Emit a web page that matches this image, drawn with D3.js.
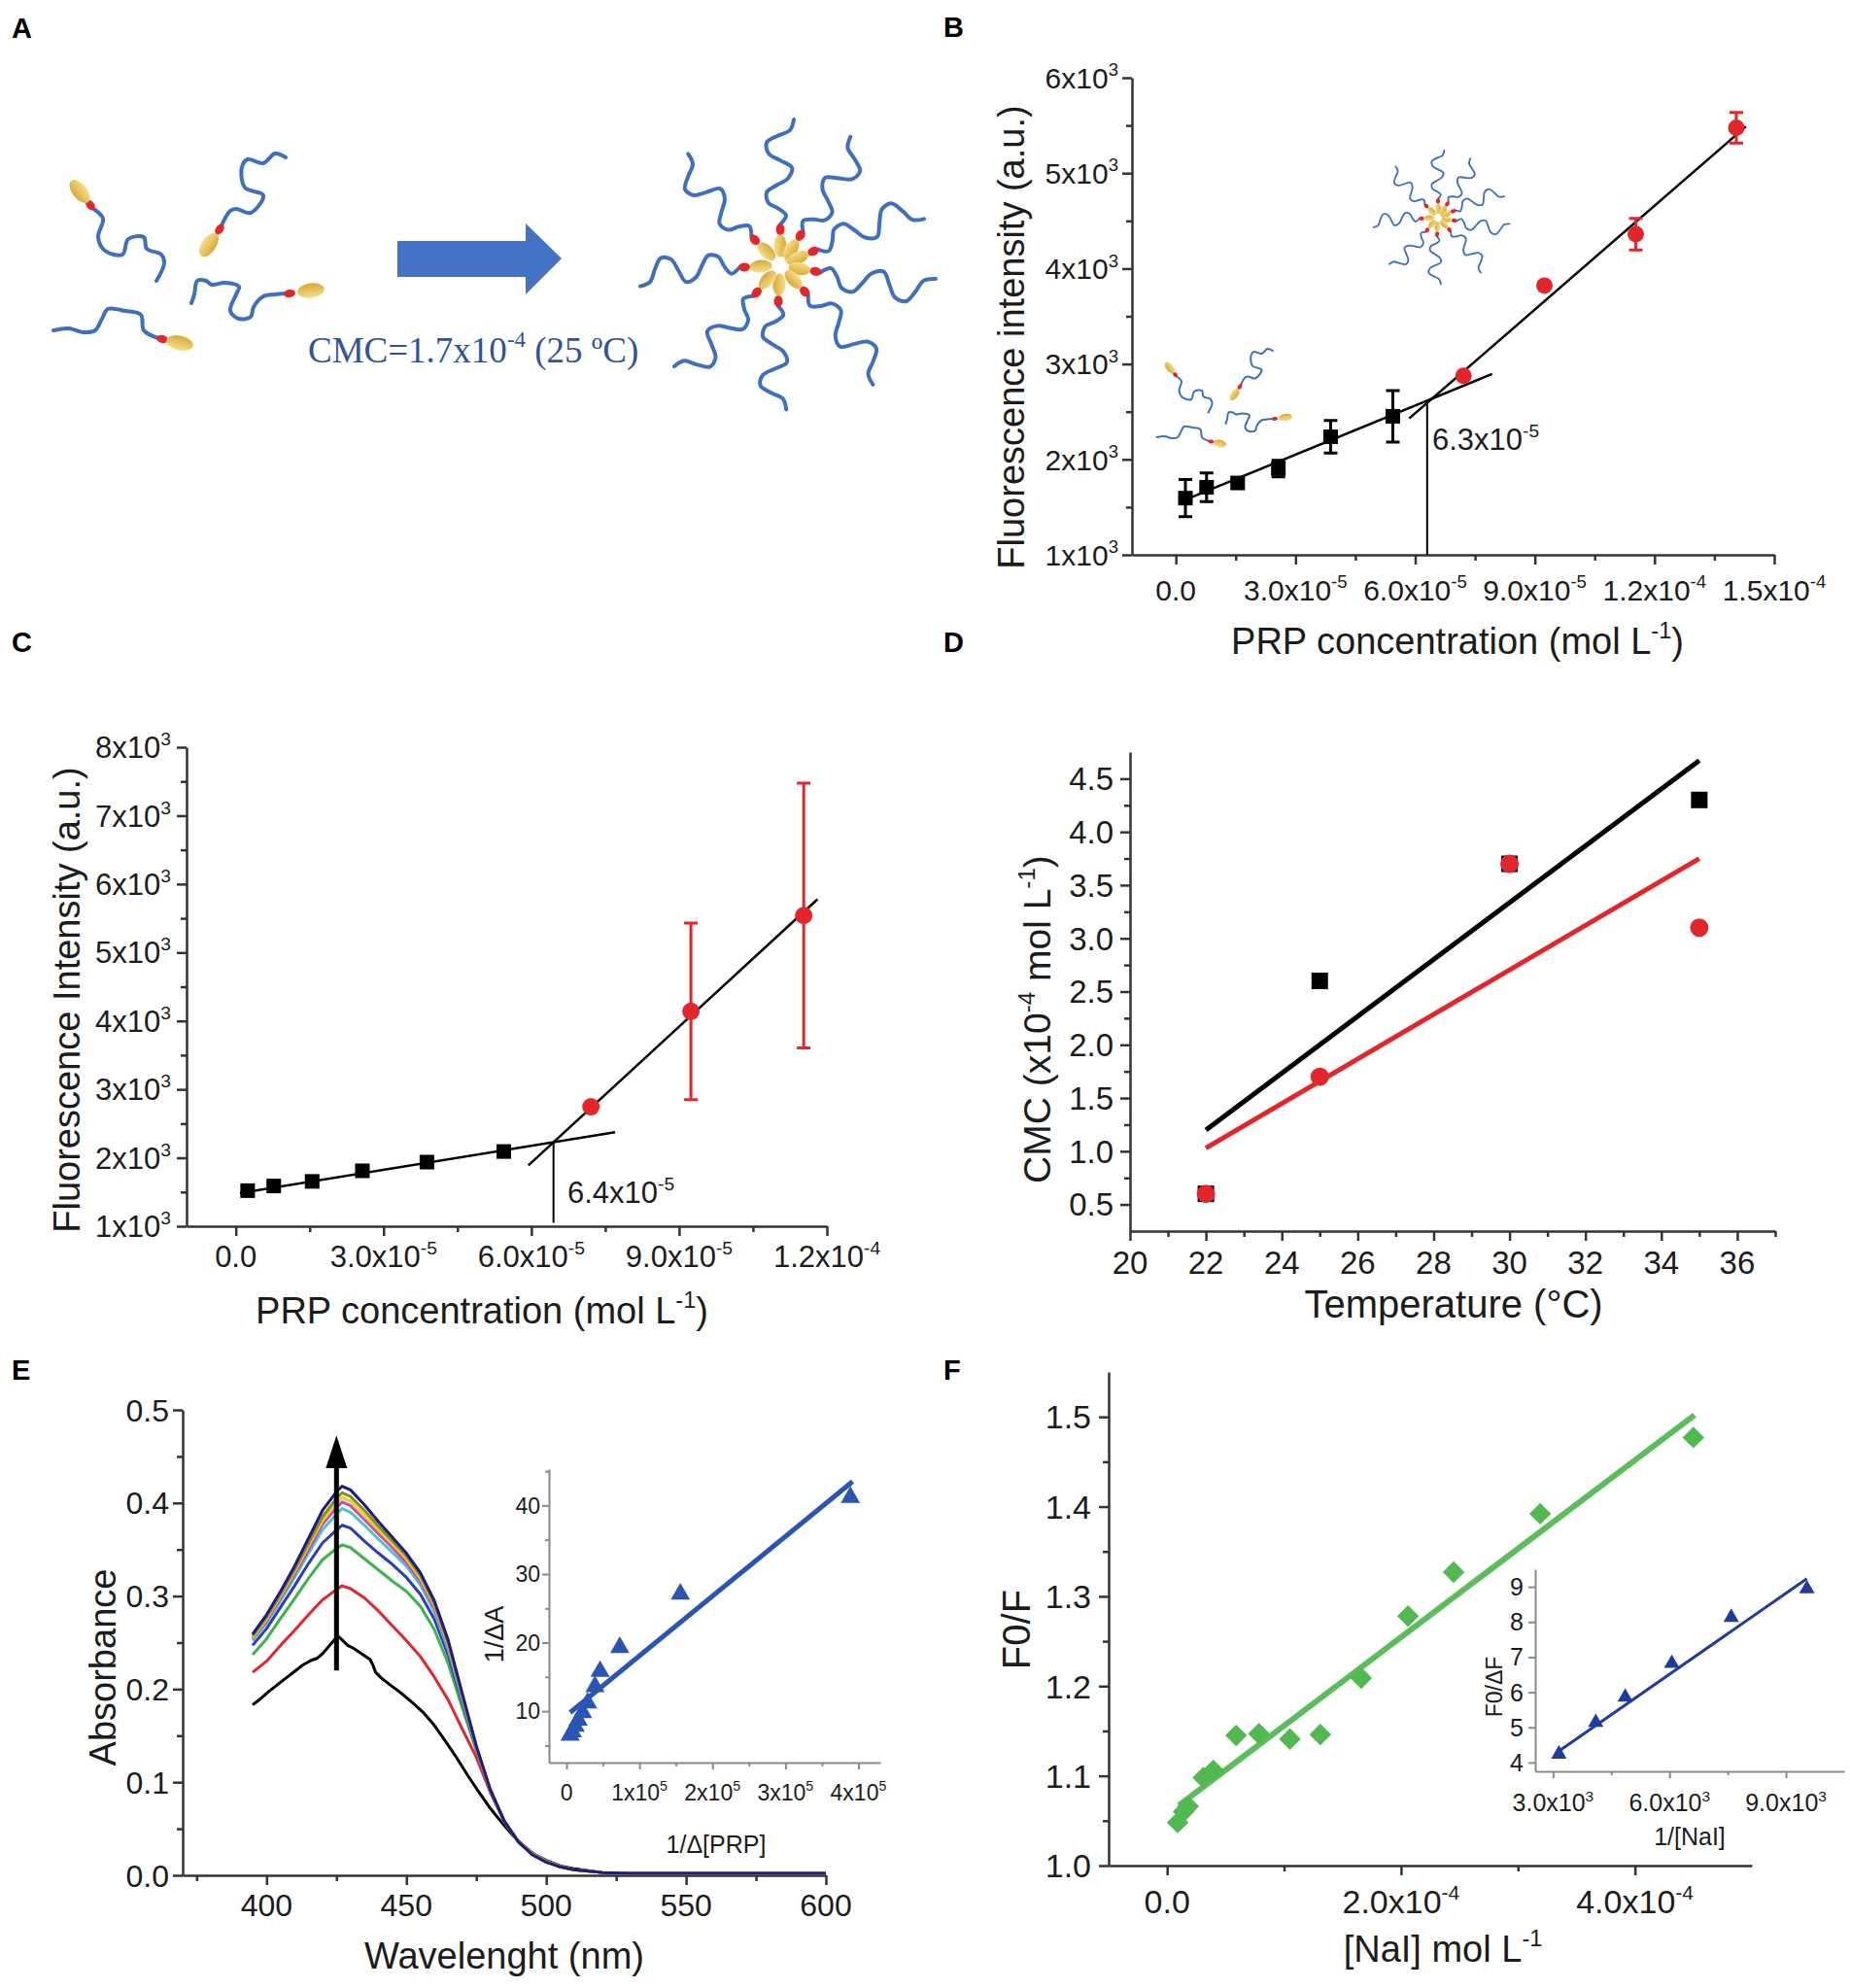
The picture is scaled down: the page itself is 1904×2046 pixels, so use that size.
<!DOCTYPE html>
<html>
<head>
<meta charset="utf-8">
<script src="https://d3js.org/d3.v7.min.js"></script>
<style>
  body { margin: 0; background: #fff; }
  text { font-family: "Liberation Sans", Arial, sans-serif; fill: #1c1c1c; }
  .axis path, .axis line { stroke: #333; stroke-width: 2.5px; fill: none; }
  .inset path, .inset line { stroke: #8a8a8a; stroke-width: 2px; fill: none; }
  .plabel { font-weight: bold; font-size: 29px; fill: #000; }
  .chain { fill: none; stroke: #3e6fc0; stroke-width: 4px; stroke-linecap: round; stroke-linejoin: round; }
  .fit { fill: none; stroke: #000; stroke-width: 2.5px; }
</style>
</head>
<body>
<script>
// ---------------- data ----------------
// panels B and C: PRP concentration (mol/L) and fluorescence intensity
var prpConc = [2.4e-6, 7.7e-6, 1.55e-5, 2.57e-5, 3.88e-5, 5.44e-5, 7.21e-5, 9.24e-5, 1.153e-4, 1.405e-4];
var fluoB = [1594, 1708, 1753, 1904, 2237, 2452, 2877, 3822, 4361, 5475];
var errB  = [195, 150, 55, 87, 170, 270, 0, 0, 165, 160];
var fitLowB  = [[1.5e-6, 1562], [7.93e-5, 2895]];
var fitHighB = [[5.85e-5, 2429], [1.429e-4, 5489]];
var cmcB = 6.3e-5, cmcTopB = 2600;

var fluoC = [1520, 1588, 1655, 1810, 1937, 2092, 2745, 4140, 5540];
var errC  = [0, 0, 0, 0, 0, 0, 0, 1290, 1935];
var fitLowC  = [[8.4e-7, 1485], [7.7e-5, 2373]];
var fitHighC = [[5.94e-5, 1890], [1.181e-4, 5778]];
var cmcC = 6.45e-5, cmcTopC = 2235;
var nBelow = 6; // first points are black squares, rest red circles

// panel D
var tempD = [22, 25, 30, 35];
var cmcBlack = [0.6, 2.6, 3.7, 4.3];
var cmcRed = [0.6, 1.7, 3.7, 3.1];
var fitBlackD = [[22, 1.2], [35, 4.67]];
var fitRedD = [[22, 1.03], [35, 3.75]];

// panel E: absorption spectra
var wlE = [395,400,405,410,415,420,425,427,430,435,440,445,450,455,460,465,470,475,480,485,490,495,500,505,510,520,530,550,600];
var absRed   = [.218,.230,.247,.263,.280,.296,.307,.311,.308,.298,.284,.268,.252,.235,.213,.188,.157,.127,.089,.058,.037,.024,.015,.010,.006,.003,.002,.002,.002];
var absGreen = [.237,.254,.276,.297,.319,.339,.351,.355,.352,.340,.328,.316,.305,.289,.264,.227,.180,.134,.091,.058,.036,.023,.015,.009,.006,.003,.002,.002,.002];
var absBlue  = [.247,.265,.288,.311,.335,.357,.371,.376,.373,.359,.346,.334,.320,.302,.275,.236,.186,.136,.091,.058,.036,.023,.015,.009,.006,.003,.002,.002,.002];
var absCyan  = [.252,.271,.295,.320,.346,.371,.388,.394,.390,.376,.361,.347,.332,.312,.283,.242,.189,.137,.091,.058,.036,.023,.015,.009,.006,.003,.002,.002,.002];
var absMag   = [.254,.273,.298,.323,.350,.377,.395,.401,.397,.382,.367,.352,.336,.316,.287,.245,.191,.137,.091,.058,.036,.023,.015,.009,.006,.003,.002,.002,.002];
var absYel   = [.255,.275,.300,.326,.354,.381,.400,.406,.402,.387,.371,.356,.340,.319,.290,.247,.192,.138,.092,.058,.036,.023,.015,.009,.006,.003,.002,.002,.002];
var absOlive = [.257,.277,.302,.328,.357,.385,.405,.411,.407,.392,.375,.359,.343,.322,.292,.249,.193,.138,.092,.058,.036,.023,.015,.009,.006,.003,.002,.002,.002];
var absNavy  = [.259,.280,.305,.332,.362,.392,.412,.418,.414,.398,.380,.363,.346,.325,.295,.252,.195,.139,.092,.058,.036,.022,.014,.009,.006,.003,.002,.002,.002];
var wlBlack  = [395,398,401,404,407,410,413,416,418,420,422,424,425.5,427,429,431,433,435,437,438,439,441,444,448,452,456,460,464,468,472,476,480,484,488,492,496,500,505,510,515,520,530,560,600];
var absBlack = [.183,.190,.198,.205,.212,.219,.226,.231,.233,.238,.245,.252,.257,.253,.247,.244,.240,.236,.232,.226,.218,.212,.205,.196,.186,.175,.161,.144,.126,.107,.089,.072,.057,.043,.031,.022,.016,.010,.007,.005,.003,.002,.002,.002];
var spectra = [
  {c: '#000000', v: null},
  {c: '#e3262b', v: absRed},
  {c: '#3cb44b', v: absGreen},
  {c: '#2b3cc0', v: absBlue},
  {c: '#45c6cf', v: absCyan},
  {c: '#d445b8', v: absMag},
  {c: '#e6d41e', v: absYel},
  {c: '#8c8a2a', v: absOlive},
  {c: '#1c1c84', v: absNavy}
];
var arrowE = {wl: 425, from: 0.22, to: 0.4725, head: 0.035};

// panel E inset
var invPRP = [3.89e5, 1.56e5, 7.3e4, 4.6e4, 3.9e4, 2.9e4, 2.2e4, 1.6e4, 1.2e4, 8e3, 5e3];
var invA   = [41.2, 27.1, 19.3, 15.8, 13.6, 11.2, 9.8, 8.7, 7.8, 7.0, 6.5];
var fitE   = [[5e3, 9.8], [3.92e5, 43.5]];

// panel F
var naiConc = [9e-6, 1.4e-5, 1.8e-5, 3.1e-5, 3.95e-5, 5.9e-5, 7.85e-5, 1.05e-4, 1.31e-4, 1.66e-4, 2.06e-4, 2.45e-4, 3.19e-4, 4.5e-4];
var f0f = [1.048, 1.060, 1.066, 1.098, 1.106, 1.145, 1.147, 1.141, 1.146, 1.209, 1.278, 1.327, 1.392, 1.477];
var fitF = [[1.0e-5, 1.067], [4.51e-4, 1.502]];
// panel F inset
var invNaI = [3.15e3, 4.1e3, 4.86e3, 6.06e3, 7.59e3, 9.54e3];
var f0dF = [4.24, 5.14, 5.86, 6.82, 8.13, 8.94];
var fitFi = [[3.12e3, 4.3], [9.54e3, 9.23]];

// tick values and labels
var bXt = [0, 3e-5, 6e-5, 9e-5, 1.2e-4, 1.5e-4];
var bXl = [['0.0'], ['3.0x10', ['-5']], ['6.0x10', ['-5']], ['9.0x10', ['-5']], ['1.2x10', ['-4']], ['1.5x10', ['-4']]];
var bXm = [1.5e-5, 4.5e-5, 7.5e-5, 1.05e-4, 1.35e-4];
var bYt = [1000, 2000, 3000, 4000, 5000, 6000];
var bYl = [['1x10', ['3']], ['2x10', ['3']], ['3x10', ['3']], ['4x10', ['3']], ['5x10', ['3']], ['6x10', ['3']]];
var bYm = [1500, 2500, 3500, 4500, 5500];

var cXt = [0, 3e-5, 6e-5, 9e-5, 1.2e-4];
var cXl = [['0.0'], ['3.0x10', ['-5']], ['6.0x10', ['-5']], ['9.0x10', ['-5']], ['1.2x10', ['-4']]];
var cXm = [1.5e-5, 4.5e-5, 7.5e-5, 1.05e-4];
var cYt = [1000, 2000, 3000, 4000, 5000, 6000, 7000, 8000];
var cYl = [['1x10', ['3']], ['2x10', ['3']], ['3x10', ['3']], ['4x10', ['3']], ['5x10', ['3']], ['6x10', ['3']], ['7x10', ['3']], ['8x10', ['3']]];
var cYm = [1500, 2500, 3500, 4500, 5500, 6500, 7500];

var dXt = [20, 22, 24, 26, 28, 30, 32, 34, 36];
var dXl = [['20'], ['22'], ['24'], ['26'], ['28'], ['30'], ['32'], ['34'], ['36']];
var dXm = [21, 23, 25, 27, 29, 31, 33, 35, 37];
var dYt = [0.5, 1.0, 1.5, 2.0, 2.5, 3.0, 3.5, 4.0, 4.5];
var dYl = [['0.5'], ['1.0'], ['1.5'], ['2.0'], ['2.5'], ['3.0'], ['3.5'], ['4.0'], ['4.5']];
var dYm = [0.75, 1.25, 1.75, 2.25, 2.75, 3.25, 3.75, 4.25];

var eXt = [400, 450, 500, 550, 600];
var eXl = [['400'], ['450'], ['500'], ['550'], ['600']];
var eXm = [375, 425, 475, 525, 575];
var eYt = [0, 0.1, 0.2, 0.3, 0.4, 0.5];
var eYl = [['0.0'], ['0.1'], ['0.2'], ['0.3'], ['0.4'], ['0.5']];
var eYm = [0.05, 0.15, 0.25, 0.35, 0.45];

var eiXt = [0, 1e5, 2e5, 3e5, 4e5];
var eiXl = [['0'], ['1x10', ['5']], ['2x10', ['5']], ['3x10', ['5']], ['4x10', ['5']]];
var eiXm = [5e4, 1.5e5, 2.5e5, 3.5e5];
var eiYt = [10, 20, 30, 40];
var eiYl = [['10'], ['20'], ['30'], ['40']];
var eiYm = [5, 15, 25, 35, 45];

var fXt = [0, 2e-4, 4e-4];
var fXl = [['0.0'], ['2.0x10', ['-4']], ['4.0x10', ['-4']]];
var fXm = [1e-4, 3e-4];
var fYt = [1.0, 1.1, 1.2, 1.3, 1.4, 1.5];
var fYl = [['1.0'], ['1.1'], ['1.2'], ['1.3'], ['1.4'], ['1.5']];
var fYm = [1.05, 1.15, 1.25, 1.35, 1.45];

var fiXt = [3e3, 6e3, 9e3];
var fiXl = [['3.0x10', ['3']], ['6.0x10', ['3']], ['9.0x10', ['3']]];
var fiXm = [4.5e3, 7.5e3];
var fiYt = [4, 5, 6, 7, 8, 9];
var fiYl = [['4'], ['5'], ['6'], ['7'], ['8'], ['9']];

// illustration (panel A) geometry
var monomers = [
  {head: [82, 197], link: [93, 211], chain: [[95,214],[106,225],[101,244],[108,258],[126,262],[132,246],[148,244],[151,256],[166,262],[169,271],[161,289]]},
  {head: [215, 252], link: [226, 236], chain: [[228,232],[237,217],[243,215],[258,219],[271,201],[252,193],[249,172],[255,164],[271,168],[283,158],[294,162]]},
  {head: [320, 299], link: [298, 302], chain: [[294,302],[283,303],[271,305],[261,316],[258,326],[246,328],[237,320],[243,303],[246,295],[231,291],[218,293],[212,289],[203,289],[200,303],[197,312]]},
  {head: [185, 353], link: [167, 349], chain: [[163,348],[148,340],[145,324],[129,320],[111,318],[105,328],[98,340],[86,342],[71,338],[55,340]]}
];
var micArms = [
  {ang: -90, len: 150}, {ang: -56, len: 150}, {ang: -23, len: 155},
  {ang: 10, len: 160}, {ang: 47, len: 155}, {ang: 93, len: 148},
  {ang: 131, len: 150}, {ang: 177, len: 145}, {ang: -135, len: 148}
];
var chainTpl = [[0,0],[10,-6],[18,2],[24,12],[36,14],[44,4],[52,-8],[64,-12],[72,0],[80,12],[92,14],[100,2],[106,-10],[118,-14]];
var arrowA = [[409,248],[541,248],[541,230],[578,266],[541,303],[541,285],[409,285]];

// ---------------- drawing ----------------
var W = 1904, H = 2046;
var svg = d3.select('body').append('svg').attr('width', W).attr('height', H);

function rich(g, x, y, parts, fs, anchor, rot) {
  var t = g.append('text').attr('x', x).attr('y', y)
    .attr('font-size', fs).attr('text-anchor', anchor || 'middle');
  if (rot) t.attr('transform', 'rotate(-90,' + x + ',' + y + ')');
  var up = false;
  parts.forEach(function(p) {
    var sup = Array.isArray(p);
    var s = t.append('tspan').text(sup ? p[0] : p);
    if (sup) {
      s.attr('font-size', fs * 0.62);
      if (!up) { s.attr('dy', -fs * 0.42); up = true; }
    } else if (up) { s.attr('dy', fs * 0.42); up = false; }
  });
  return t;
}

function axes(x, y, o) {
  var g = svg.append('g').attr('class', o.cls || 'axis');
  var by = y.range()[0], lx = x.range()[0];
  g.append('g').attr('transform', 'translate(0,' + by + ')')
    .call(d3.axisBottom(x).tickValues(o.xt).tickSize(o.tl).tickSizeOuter(0).tickFormat(''));
  if (o.xm) g.append('g').attr('transform', 'translate(0,' + by + ')')
    .call(d3.axisBottom(x).tickValues(o.xm).tickSize(o.tm).tickSizeOuter(0).tickFormat(''))
    .select('.domain').remove();
  g.append('g').attr('transform', 'translate(' + lx + ',0)')
    .call(d3.axisLeft(y).tickValues(o.yt).tickSize(o.tl).tickSizeOuter(0).tickFormat(''));
  if (o.ym) g.append('g').attr('transform', 'translate(' + lx + ',0)')
    .call(d3.axisLeft(y).tickValues(o.ym).tickSize(o.tm).tickSizeOuter(0).tickFormat(''))
    .select('.domain').remove();
  o.xt.forEach(function(v, i) { rich(g, x(v), by + o.xOff, o.xl[i], o.fs, 'middle'); });
  o.yt.forEach(function(v, i) { rich(g, lx - o.yOff, y(v) + o.fs * 0.36, o.yl[i], o.fs, 'end'); });
  return g;
}

function seg(g, x, y, pts, cls, col, w) {
  var p = g.append('path').attr('class', cls || 'fit')
    .attr('d', d3.line().x(function(d) { return x(d[0]); }).y(function(d) { return y(d[1]); })(pts));
  if (col) p.style('stroke', col);
  if (w) p.style('stroke-width', w + 'px');
  return p;
}

var wig = d3.line().curve(d3.curveCatmullRom.alpha(0.5));

function monomerGroup(g) {
  monomers.forEach(function(m) {
    g.append('path').attr('class', 'chain').attr('d', wig(m.chain));
  });
  monomers.forEach(function(m) {
    var a = Math.atan2(m.link[1] - m.head[1], m.link[0] - m.head[0]) * 180 / Math.PI;
    g.append('ellipse').attr('cx', m.link[0]).attr('cy', m.link[1]).attr('rx', 6).attr('ry', 4)
      .attr('fill', '#e3262b').attr('transform', 'rotate(' + a + ',' + m.link[0] + ',' + m.link[1] + ')');
    g.append('ellipse').attr('cx', m.head[0]).attr('cy', m.head[1]).attr('rx', 14).attr('ry', 7.5)
      .attr('fill', 'url(#gold)').attr('transform', 'rotate(' + a + ',' + m.head[0] + ',' + m.head[1] + ')');
  });
}

function micelle(g, cx, cy, k) {
  var m = g.append('g').attr('transform', 'translate(' + cx + ',' + cy + ') scale(' + k + ')');
  var uEnd = chainTpl[chainTpl.length - 1][0];
  micArms.forEach(function(a, i) {
    var pts = chainTpl.map(function(p) {
      return [42 + p[0] * (a.len - 42) / uEnd, p[1] * (i % 2 ? 1 : -1)];
    });
    m.append('path').attr('class', 'chain').attr('transform', 'rotate(' + a.ang + ')').attr('d', wig(pts));
  });
  micArms.forEach(function(a) {
    m.append('ellipse').attr('transform', 'rotate(' + a.ang + ')')
      .attr('cx', 37).attr('cy', 0).attr('rx', 6).attr('ry', 4.5).attr('fill', '#e3262b');
  });
  m.append('ellipse').attr('transform', 'rotate(-70)').attr('cx', 14).attr('cy', 7)
    .attr('rx', 10).attr('ry', 6).attr('fill', 'url(#gold)');
  micArms.forEach(function(a) {
    m.append('ellipse').attr('transform', 'rotate(' + a.ang + ')')
      .attr('cx', 20).attr('cy', 0).attr('rx', 11.5).attr('ry', 6.5).attr('fill', 'url(#gold)');
  });
}

var defs = svg.append('defs');
var gold = defs.append('linearGradient').attr('id', 'gold').attr('x1', 0).attr('y1', 0).attr('x2', 0).attr('y2', 1);
gold.append('stop').attr('offset', '0%').attr('stop-color', '#f6df8c');
gold.append('stop').attr('offset', '100%').attr('stop-color', '#d8a938');

// panel labels
[['A', 12, 39], ['B', 971, 38], ['C', 12, 671], ['D', 971, 671], ['E', 12, 1420], ['F', 971, 1420]]
  .forEach(function(l) { svg.append('text').attr('class', 'plabel').attr('x', l[1]).attr('y', l[2]).text(l[0]); });

// ---- panel A ----
var gA = svg.append('g');
monomerGroup(gA);
gA.append('polygon').attr('points', arrowA.map(function(p) { return p.join(','); }).join(' ')).attr('fill', '#4472c4');
rich(gA, 317, 373, ['CMC=1.7x10', ['-4'], ' (25 \u00baC)'], 37, 'start')
  .style('font-family', '"Liberation Serif", "Times New Roman", serif').style('fill', '#2f5597');
micelle(gA, 803, 273, 1);

// ---- panel B ----
var xB = d3.scaleLinear().domain([-1.1e-5, 1.5e-4]).range([1165, 1826]);
var yB = d3.scaleLinear().domain([1000, 6000]).range([571, 80]);
var gBi = svg.append('g');
monomerGroup(gBi.append('g').attr('transform', 'translate(1163,280) scale(0.5)'));
micelle(gBi, 1480, 224, 0.46);
gBi.selectAll('.chain').style('stroke-width', '4px');
axes(xB, yB, {xt: bXt, xl: bXl, xm: bXm, yt: bYt, yl: bYl, ym: bYm, tl: 10, tm: 6, fs: 30, xOff: 47, yOff: 14});
var gB = svg.append('g');
seg(gB, xB, yB, fitLowB);
seg(gB, xB, yB, fitHighB);
seg(gB, xB, yB, [[cmcB, 1000], [cmcB, cmcTopB]], 'fit', null, 2);
var ptsB = prpConc.map(function(c, i) { return {x: c, y: fluoB[i], e: errB[i], red: i >= nBelow}; });
gB.selectAll('.eb').data(ptsB.filter(function(d) { return d.e > 0; })).enter().append('path')
  .attr('d', function(d) {
    var x = xB(d.x), t = yB(d.y + d.e), b = yB(d.y - d.e);
    return 'M' + x + ',' + t + 'V' + b + 'M' + (x - 7) + ',' + t + 'H' + (x + 7) + 'M' + (x - 7) + ',' + b + 'H' + (x + 7);
  })
  .attr('stroke', function(d) { return d.red ? '#e3262b' : '#000'; }).attr('stroke-width', 3).attr('fill', 'none');
gB.selectAll('.sq').data(ptsB.filter(function(d) { return !d.red; })).enter().append('rect')
  .attr('x', function(d) { return xB(d.x) - 7.5; }).attr('y', function(d) { return yB(d.y) - 7.5; })
  .attr('width', 15).attr('height', 15).attr('fill', '#000');
gB.selectAll('.ci').data(ptsB.filter(function(d) { return d.red; })).enter().append('circle')
  .attr('cx', function(d) { return xB(d.x); }).attr('cy', function(d) { return yB(d.y); })
  .attr('r', 8.5).attr('fill', '#e3262b');
rich(gB, 1474, 463, ['6.3x10', ['-5']], 31, 'start');
rich(svg, 1500, 673, ['PRP concentration (mol L', ['-1'], ')'], 38, 'middle');
rich(svg, 1054, 347, ['Fluorescence intensity (a.u.)'], 38, 'middle', true);

// ---- panel C ----
var xC = d3.scaleLinear().domain([-1.0e-5, 1.2e-4]).range([192, 851]);
var yC = d3.scaleLinear().domain([1000, 8000]).range([1262, 769]);
axes(xC, yC, {xt: cXt, xl: cXl, xm: cXm, yt: cYt, yl: cYl, ym: cYm, tl: 10, tm: 6, fs: 31, xOff: 42, yOff: 16});
var gC = svg.append('g');
seg(gC, xC, yC, fitLowC);
seg(gC, xC, yC, fitHighC);
seg(gC, xC, yC, [[cmcC, 1050], [cmcC, cmcTopC]], 'fit', null, 2);
var ptsC = fluoC.map(function(v, i) { return {x: prpConc[i], y: v, e: errC[i], red: i >= nBelow}; });
gC.selectAll('.eb').data(ptsC.filter(function(d) { return d.e > 0; })).enter().append('path')
  .attr('d', function(d) {
    var x = xC(d.x), t = yC(d.y + d.e), b = yC(d.y - d.e);
    return 'M' + x + ',' + t + 'V' + b + 'M' + (x - 7) + ',' + t + 'H' + (x + 7) + 'M' + (x - 7) + ',' + b + 'H' + (x + 7);
  })
  .attr('stroke', '#e3262b').attr('stroke-width', 3).attr('fill', 'none');
gC.selectAll('.sq').data(ptsC.filter(function(d) { return !d.red; })).enter().append('rect')
  .attr('x', function(d) { return xC(d.x) - 7.5; }).attr('y', function(d) { return yC(d.y) - 7.5; })
  .attr('width', 15).attr('height', 15).attr('fill', '#000');
gC.selectAll('.ci').data(ptsC.filter(function(d) { return d.red; })).enter().append('circle')
  .attr('cx', function(d) { return xC(d.x); }).attr('cy', function(d) { return yC(d.y); })
  .attr('r', 9).attr('fill', '#e3262b');
rich(gC, 584, 1238, ['6.4x10', ['-5']], 31, 'start');
rich(svg, 496, 1362, ['PRP concentration (mol L', ['-1'], ')'], 38, 'middle');
rich(svg, 82, 1029, ['Fluorescence Intensity (a.u.)'], 38, 'middle', true);

// ---- panel D ----
var xD = d3.scaleLinear().domain([20, 37]).range([1163, 1827]);
var yD = d3.scaleLinear().domain([0.25, 4.75]).range([1267, 774]);
axes(xD, yD, {xt: dXt, xl: dXl, xm: dXm, yt: dYt, yl: dYl, ym: dYm, tl: 10, tm: 6, fs: 33, xOff: 44, yOff: 17});
var gD = svg.append('g');
seg(gD, xD, yD, fitBlackD, 'fit', '#000', 5);
seg(gD, xD, yD, fitRedD, 'fit', '#e3262b', 5);
gD.selectAll('.sq').data(tempD).enter().append('rect')
  .attr('x', function(d) { return xD(d) - 8.5; }).attr('y', function(d, i) { return yD(cmcBlack[i]) - 8.5; })
  .attr('width', 17).attr('height', 17).attr('fill', '#000');
gD.selectAll('.ci').data(tempD).enter().append('circle')
  .attr('cx', function(d) { return xD(d); }).attr('cy', function(d, i) { return yD(cmcRed[i]); })
  .attr('r', 9.5).attr('fill', '#e3262b');
rich(svg, 1496, 1356, ['Temperature (\u00b0C)'], 40, 'middle');
rich(svg, 1081, 1049, ['CMC (x10', ['-4'], ' mol L', ['-1'], ')'], 39, 'middle', true);

// ---- panel E ----
var xE = d3.scaleLinear().domain([370, 600]).range([188, 850]);
var yE = d3.scaleLinear().domain([0, 0.5]).range([1930, 1451]);
axes(xE, yE, {xt: eXt, xl: eXl, xm: eXm, yt: eYt, yl: eYl, ym: eYm, tl: 10, tm: 6, fs: 32, xOff: 42, yOff: 14});
var gE = svg.append('g');
var specLine = d3.line().x(function(d) { return xE(d[0]); }).y(function(d) { return yE(d[1]); });
spectra.forEach(function(s) {
  var pts = s.v ? d3.zip(wlE, s.v) : d3.zip(wlBlack, absBlack);
  gE.append('path').attr('d', specLine(pts)).attr('fill', 'none')
    .attr('stroke', s.c).attr('stroke-width', 3).attr('stroke-linejoin', 'round');
});
gE.append('line').attr('x1', xE(arrowE.wl)).attr('x2', xE(arrowE.wl))
  .attr('y1', yE(arrowE.from)).attr('y2', yE(arrowE.to - arrowE.head + 0.005))
  .attr('stroke', '#000').attr('stroke-width', 5);
gE.append('path').attr('fill', '#000')
  .attr('d', 'M' + xE(arrowE.wl) + ',' + yE(arrowE.to) +
    'L' + (xE(arrowE.wl) + 11) + ',' + yE(arrowE.to - arrowE.head) +
    'L' + (xE(arrowE.wl) - 11) + ',' + yE(arrowE.to - arrowE.head) + 'Z');
rich(svg, 519, 2026, ['Wavelenght (nm)'], 38, 'middle');
rich(svg, 119, 1716, ['Absorbance'], 38, 'middle', true);

// E inset
var xEi = d3.scaleLinear().domain([-2.4e4, 4.3e5]).range([565, 906]);
var yEi = d3.scaleLinear().domain([2.5, 45.3]).range([1814, 1512]);
axes(xEi, yEi, {cls: 'inset', xt: eiXt, xl: eiXl, xm: eiXm, yt: eiYt, yl: eiYl, ym: eiYm, tl: 7, tm: 4, fs: 23, xOff: 39, yOff: 9});
seg(gE, xEi, yEi, fitE, 'fit', '#2a55b2', 5);
gE.selectAll('.tri').data(invPRP).enter().append('path')
  .attr('d', d3.symbol().type(d3.symbolTriangle).size(170))
  .attr('transform', function(d, i) { return 'translate(' + xEi(d) + ',' + yEi(invA[i]) + ')'; })
  .attr('fill', '#2a55b2');
rich(svg, 737, 1907, ['1/\u0394[PRP]'], 25, 'middle');
rich(svg, 518, 1682, ['1/\u0394A'], 27, 'middle', true);

// ---- panel F ----
var xF = d3.scaleLinear().domain([-5e-5, 5e-4]).range([1141, 1803]);
var yF = d3.scaleLinear().domain([1.0, 1.55]).range([1920, 1412]);
axes(xF, yF, {xt: fXt, xl: fXl, xm: fXm, yt: fYt, yl: fYl, ym: fYm, tl: 10, tm: 6, fs: 34, xOff: 49, yOff: 18});
var gF = svg.append('g');
seg(gF, xF, yF, fitF, 'fit', '#5bbd5b', 6);
gF.selectAll('.dia').data(naiConc).enter().append('path')
  .attr('d', d3.symbol().type(d3.symbolSquare).size(250))
  .attr('transform', function(d, i) { return 'translate(' + xF(d) + ',' + yF(f0f[i]) + ') rotate(45)'; })
  .attr('fill', '#52b852');
rich(svg, 1485, 2019, ['[NaI] mol L', ['-1']], 38, 'middle');
rich(svg, 1060, 1677, ['F0/F'], 40, 'middle', true);

// F inset
var xFi = d3.scaleLinear().domain([2.54e3, 1.05e4]).range([1580, 1898]);
var yFi = d3.scaleLinear().domain([3.75, 9.5]).range([1823, 1615]);
axes(xFi, yFi, {cls: 'inset', xt: fiXt, xl: fiXl, xm: fiXm, yt: fiYt, yl: fiYl, tl: 7, tm: 4, fs: 25, xOff: 41, yOff: 12});
seg(gF, xFi, yFi, fitFi, 'fit', '#1f3c9c', 3);
gF.selectAll('.tri').data(invNaI).enter().append('path')
  .attr('d', d3.symbol().type(d3.symbolTriangle).size(110))
  .attr('transform', function(d, i) { return 'translate(' + xFi(d) + ',' + yFi(f0dF[i]) + ')'; })
  .attr('fill', '#1f3c9c');
rich(svg, 1739, 1899, ['1/[NaI]'], 25, 'middle');
rich(svg, 1546, 1736, ['F0/\u0394F'], 23, 'middle', true);
</script>
</body>
</html>
